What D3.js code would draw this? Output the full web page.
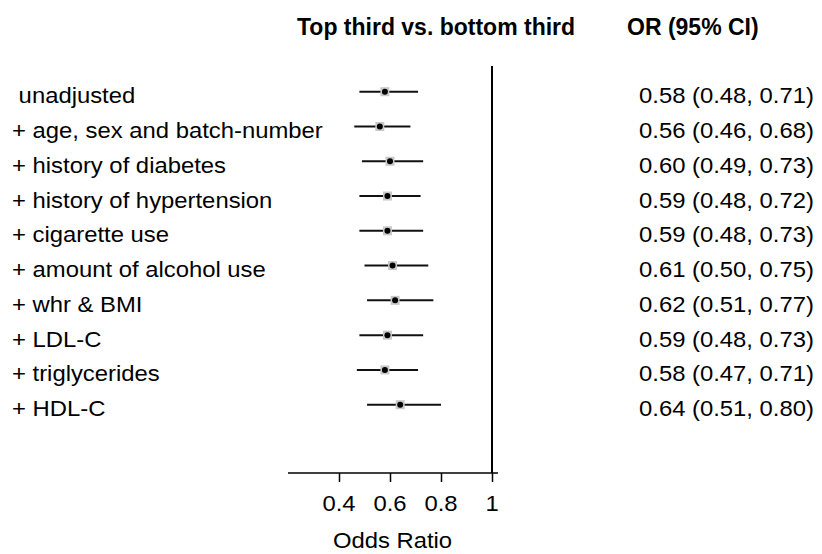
<!DOCTYPE html>
<html>
<head>
<meta charset="utf-8">
<script src="https://cdn.jsdelivr.net/npm/d3@7"></script>
<style>
  html, body { margin: 0; padding: 0; background: #fff; }
  svg { display: block; }
  text { font-family: "Liberation Sans", Arial, sans-serif; fill: #000; white-space: pre; }
</style>
</head>
<body>
<script>
// ---- data ----
const labels = [" unadjusted", "+ age, sex and batch-number", "+ history of diabetes",
  "+ history of hypertension", "+ cigarette use", "+ amount of alcohol use",
  "+ whr & BMI", "+ LDL-C", "+ triglycerides", "+ HDL-C"];
const orValues = [0.58, 0.56, 0.60, 0.59, 0.59, 0.61, 0.62, 0.59, 0.58, 0.64];
const lowerCI  = [0.48, 0.46, 0.49, 0.48, 0.48, 0.50, 0.51, 0.48, 0.47, 0.51];
const upperCI  = [0.71, 0.68, 0.73, 0.72, 0.73, 0.75, 0.77, 0.73, 0.71, 0.80];
const tickValues = [0.4, 0.6, 0.8, 1];
const tickLabels = ["0.4", "0.6", "0.8", "1"];
const headerLeft = "Top third vs. bottom third";
const headerRight = "OR (95% CI)";
const axisTitle = "Odds Ratio";

// ---- layout ----
const W = 822, H = 554;
const FS = 22.5, SX = 1.06;
const svg = d3.select("body").append("svg").attr("width", W).attr("height", H);

const x = d3.scaleLinear().domain([0.2, 1]).range([288, 492]);
const y = d3.scalePoint().domain(d3.range(labels.length)).range([91.7, 404.7]);
const axisY = 473;

function txt(sel, tx, ty, s, opts = {}) {
  const sx = opts.sx || SX;
  return sel.append("text")
    .attr("transform", `translate(${tx},${ty}) scale(${sx},1)`)
    .attr("text-anchor", opts.anchor || "start")
    .style("font-size", (opts.size || FS) + "px")
    .style("font-weight", opts.bold ? "bold" : "normal")
    .text(s);
}

// headers
txt(svg, 297, 35, headerLeft, {bold: true, size: 23, sx: 1.0});
txt(svg, 627, 35, headerRight, {bold: true, size: 23, sx: 1.0});

// reference line at OR = 1
svg.append("line")
  .attr("x1", x(1)).attr("x2", x(1))
  .attr("y1", 66).attr("y2", axisY)
  .attr("stroke", "#000").attr("stroke-width", 2);

// x axis
const axis = d3.axisBottom(x).tickValues(tickValues)
  .tickFormat((d, i) => tickLabels[i]).tickSize(9).tickSizeOuter(0);
const ag = svg.append("g").attr("transform", `translate(0,${axisY})`).call(axis);
ag.select(".domain").remove();
ag.append("line").attr("x1", x(0.2)).attr("x2", x(1) + 6)
  .attr("y1", 0).attr("y2", 0).attr("stroke", "#000").attr("stroke-width", 1.5);
ag.selectAll(".tick line").attr("stroke", "#000").attr("stroke-width", 1.5);
ag.selectAll(".tick text").remove();
tickValues.forEach((v, i) => txt(svg, x(v), 511, tickLabels[i], {anchor: "middle"}));

txt(svg, 392.5, 548, axisTitle, {anchor: "middle"});

// rows
const rows = svg.append("g");
labels.forEach((lab, i) => {
  const yy = y(i);
  txt(rows, 12, yy + 11.5, lab);
  rows.append("line")
    .attr("x1", x(lowerCI[i])).attr("x2", x(upperCI[i]))
    .attr("y1", yy).attr("y2", yy)
    .attr("stroke", "#111").attr("stroke-width", 2);
  rows.append("rect")
    .attr("x", x(orValues[i]) - 4.5).attr("y", yy - 4.5)
    .attr("width", 9).attr("height", 9)
    .attr("fill", "#c8c8c8");
  rows.append("circle")
    .attr("cx", x(orValues[i])).attr("cy", yy).attr("r", 3)
    .attr("fill", "#000");
  txt(rows, 639, yy + 11.5, `${orValues[i].toFixed(2)} (${lowerCI[i].toFixed(2)}, ${upperCI[i].toFixed(2)})`);
});
</script>
</body>
</html>
